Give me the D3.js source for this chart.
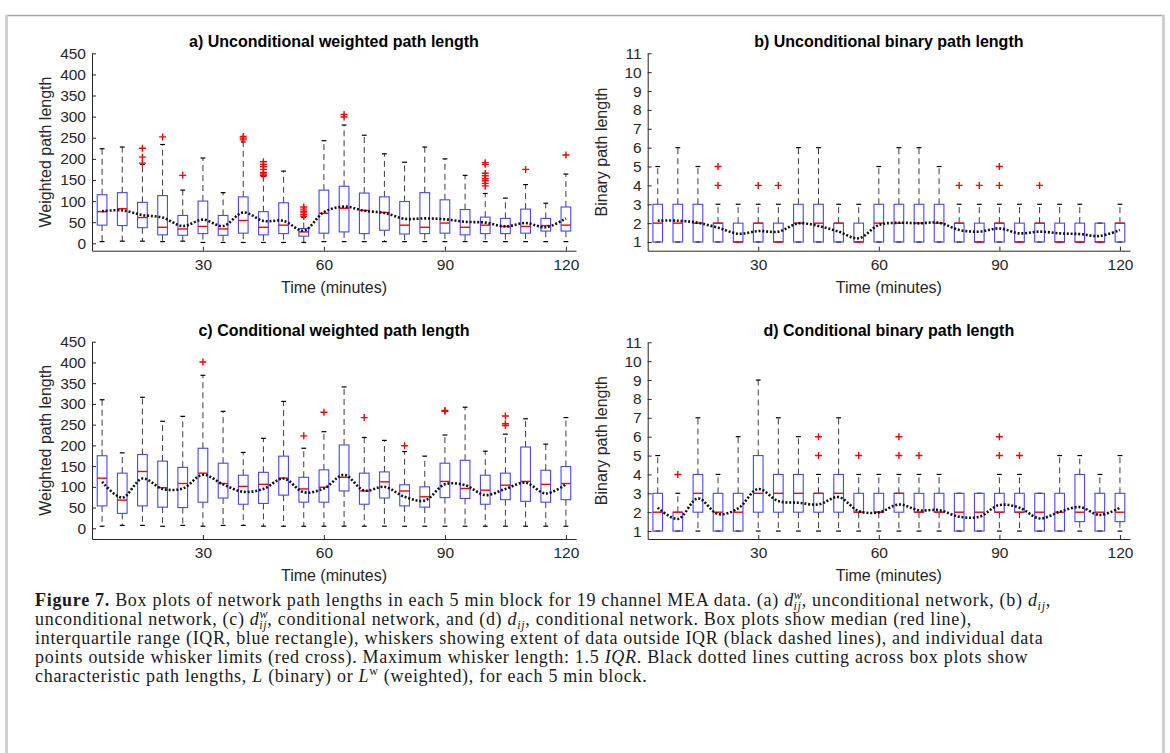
<!DOCTYPE html>
<html>
<head>
<meta charset="utf-8">
<script src="https://cdn.jsdelivr.net/npm/d3@7/dist/d3.min.js"></script>
<style>
body { margin: 0; background: #fff; }
svg { display: block; }
</style>
</head>
<body>
<div id="fig"></div>
<script>
// time blocks (minutes)
var times = [5,10,15,20,25,30,35,40,45,50,55,60,65,70,75,80,85,90,95,100,105,110,115,120];
var timeTicks = [30,60,90,120];
var weightedTicks = [0,50,100,150,200,250,300,350,400,450];
var binaryTicks = [1,2,3,4,5,6,7,8,9,10,11];

// a) unconditional weighted path length
var aQ1  = [43,42,37,20,19,23,19,24,20,23,17,24,27,23,31,22,23,24,20,23,23,24,29,29];
var aMed = [75,82,61,38,34,40,34,54,38,43,27,71,83,78,73,43,38,48,38,43,40,40,42,43];
var aQ3  = [115,120,97,113,66,100,66,110,75,96,35,126,135,119,110,99,120,103,80,62,59,81,59,86];
var aLo  = [4,5,5,4,5,2,2,2,2,2,2,4,4,4,4,4,4,4,4,4,4,4,4,4];
var aHi  = [224,228,187,234,126,202,120,240,158,171,61,243,280,256,212,192,228,200,161,118,107,139,95,164];
var aOut = [[],[],[190,204,225],[252],[161],[],[],[245,249,253],[160,164,168,175,182,187,193],[],[64,68,72,76,81,86],[],
            [299,305],[],[],[],[],[],[],[136,142,148,153,160,166,187,191],[],[175],[],[209]];
var aL   = [76,78,67,61,41,56,41,73,53,53,30,74,87,77,72,58,59,57,51,49,40,48,38,59];

// b) unconditional binary path length
var bQ1  = [1,1,1,1,1,1,1,1,1,1,1,1,1,1,1,1,1,1,1,1,1,1,1,1];
var bMed = [2,2,2,2,1,2,1,2,2,2,1,2,2,2,2,2,1,2,1,2,1,1,1,2];
var bQ3  = [3,3,3,2,2,2,2,3,3,2,2,3,3,3,3,2,2,2,2,2,2,2,2,2];
var bLo  = [1,1,1,1,1,1,1,1,1,1,1,1,1,1,1,1,1,1,1,1,1,1,1,1];
var bHi  = [5,6,5,3,3,3,3,6,6,3,3,5,6,6,5,3,3,3,3,3,3,3,2,3];
var bOut = [[],[],[],[4,5],[],[4],[4],[],[],[],[],[],[],[],[],[4],[4],[4,5],[],[4],[],[],[],[]];
var bL   = [2.13,2.13,2.02,1.76,1.44,1.58,1.55,1.99,1.85,1.55,1.2,1.9,2.02,1.99,2.02,1.64,1.55,1.72,1.46,1.55,1.46,1.42,1.32,1.64];

// c) conditional weighted path length
var cQ1  = [54,36,54,51,50,63,73,58,60,80,63,63,90,58,73,54,51,74,72,58,69,65,63,69];
var cMed = [121,68,137,98,108,133,108,101,106,121,95,99,123,90,112,90,76,113,96,92,104,113,106,108];
var cQ3  = [175,133,178,162,147,193,157,128,135,174,123,141,201,133,136,105,100,157,164,128,133,196,140,149];
var cLo  = [5,7,7,5,7,5,7,7,5,5,5,5,5,5,5,5,5,5,5,5,5,5,5,5];
var cHi  = [310,182,316,258,270,369,282,183,217,306,193,233,341,219,212,185,174,225,292,186,227,264,203,267];
var cOut = [[],[],[],[],[],[401],[],[],[],[],[223],[280],[],[267],[],[199],[],[282,284],[],[],[248,252,271],[],[],[]];
var cL   = [112,74,120,95,96,129,106,88,95,120,87,96,129,91,100,76,67,106,104,80,95,110,84,106];

// d) conditional binary path length
var dQ1  = [1,1,2,1,1,2,2,2,2,2,2,2,2,2,2,1,1,2,2,1,1,1.5,1,1.5];
var dMed = [2,2,3,2,2,3,3,3,3,3,2,2,3,2,2,2,2,2,2,2,2,2,2,2];
var dQ3  = [3,2,4,3,3,5,4,4,3,4,3,3,3,3,3,3,3,3,3,3,3,4,3,3];
var dLo  = [1,1,1,1,1,1,1,1,1,1,1,1,1,1,1,1,1,1,1,1,1,1,1,1];
var dHi  = [5,3,7,4,6,9,7,6,4,7,4,4,4,4,4,3,3,4,4,3,5,5,4,5];
var dOut = [[],[4],[],[],[],[],[],[],[5,6],[],[5],[],[5,6],[5],[],[],[],[5,6],[5],[],[],[],[],[]];
var dL   = [2.24,1.64,2.73,1.9,2.2,3.23,2.59,2.5,2.41,2.8,2.06,1.99,2.41,2.1,2.11,1.76,1.76,2.38,2.24,1.67,2.02,2.27,1.85,2.24];

var panels = [
    {title: "a) Unconditional weighted path length", ylabel: "Weighted path length",
     q1: aQ1, med: aMed, q3: aQ3, lo: aLo, hi: aHi, out: aOut, L: aL,
     ticks: weightedTicks, ymin: -17.5, ymax: 450, left: 92, right: 576, top: 53.3, bottom: 250.7},
    {title: "b) Unconditional binary path length", ylabel: "Binary path length",
     q1: bQ1, med: bMed, q3: bQ3, lo: bLo, hi: bHi, out: bOut, L: bL,
     ticks: binaryTicks, ymin: 0.54, ymax: 11, left: 647.7, right: 1130, top: 53.3, bottom: 250.7},
    {title: "c) Conditional weighted path length", ylabel: "Weighted path length",
     q1: cQ1, med: cMed, q3: cQ3, lo: cLo, hi: cHi, out: cOut, L: cL,
     ticks: weightedTicks, ymin: -25.8, ymax: 450, left: 92, right: 576, top: 341.7, bottom: 539},
    {title: "d) Conditional binary path length", ylabel: "Binary path length",
     q1: dQ1, med: dMed, q3: dQ3, lo: dLo, hi: dHi, out: dOut, L: dL,
     ticks: binaryTicks, ymin: 0.58, ymax: 11, left: 647.7, right: 1130, top: 342.3, bottom: 539}
];

var W = 1170, H = 753;
var sans = "'Liberation Sans', Arial, Helvetica, sans-serif";
var serif = "'Liberation Serif', 'Times New Roman', serif";

var svg = d3.select("#fig").append("svg")
    .attr("width", W)
    .attr("height", H);

svg.append("rect").attr("width", W).attr("height", H).attr("fill", "#fff");

// page frame
svg.append("line").attr("x1", 6).attr("x2", 1165).attr("y1", 15.5).attr("y2", 15.5)
    .attr("stroke", "#a6a6a6").attr("stroke-width", 1.5);
svg.append("rect").attr("x", 5).attr("y", 15).attr("width", 3).attr("height", H - 15).attr("fill", "#d0d0d0");
svg.append("rect").attr("x", 1162).attr("y", 15).attr("width", 3).attr("height", H - 15).attr("fill", "#d0d0d0");

panels.forEach(drawPanel);

function drawPanel(p) {
    var x = d3.scaleLinear().domain([2.5, 122.5]).range([p.left, p.right]);
    var y = d3.scaleLinear().domain([p.ymin, p.ymax]).range([p.bottom, p.top]);
    var g = svg.append("g");

    var half = (x(6.2) - x(5));      // half box width
    var cap = half / 2;

    // axes
    var yAxis = g.append("g")
        .attr("transform", "translate(" + p.left + ",0)")
        .call(d3.axisLeft(y).tickValues(p.ticks).tickSizeInner(-4).tickSizeOuter(0).tickPadding(6));
    var xAxis = g.append("g")
        .attr("transform", "translate(0," + p.bottom + ")")
        .call(d3.axisBottom(x).tickValues(timeTicks).tickSizeInner(-4).tickSizeOuter(0).tickPadding(8));
    [yAxis, xAxis].forEach(function(a) {
        a.attr("font-family", sans).attr("font-size", 15.5).attr("color", "#262626");
        a.selectAll("text").attr("fill", "#262626");
    });

    // titles and labels
    g.append("text")
        .attr("x", (p.left + p.right) / 2)
        .attr("y", p.top - 6)
        .attr("text-anchor", "middle")
        .attr("font-family", sans).attr("font-size", 16).attr("font-weight", "bold")
        .attr("fill", "#000")
        .text(p.title);
    g.append("text")
        .attr("x", (p.left + p.right) / 2)
        .attr("y", p.bottom + 42)
        .attr("text-anchor", "middle")
        .attr("font-family", sans).attr("font-size", 16)
        .attr("fill", "#262626")
        .text("Time (minutes)");
    g.append("text")
        .attr("transform", "translate(" + (p.left - 41) + "," + ((p.top + p.bottom) / 2) + ") rotate(-90)")
        .attr("text-anchor", "middle")
        .attr("font-family", sans).attr("font-size", 16)
        .attr("fill", "#262626")
        .text(p.ylabel);

    // boxes
    var boxes = g.selectAll("g.box")
        .data(times)
        .join("g")
        .attr("class", "box");

    boxes.each(function(t, i) {
        var b = d3.select(this);
        var cx = x(t);
        // whiskers
        b.append("line").attr("x1", cx).attr("x2", cx).attr("y1", y(p.q3[i])).attr("y2", y(p.hi[i]))
            .attr("stroke", "#3c3c3c").attr("stroke-dasharray", "6,4");
        b.append("line").attr("x1", cx).attr("x2", cx).attr("y1", y(p.q1[i])).attr("y2", y(p.lo[i]))
            .attr("stroke", "#3c3c3c").attr("stroke-dasharray", "6,4");
        // caps
        [p.hi[i], p.lo[i]].forEach(function(v) {
            b.append("line").attr("x1", cx - cap).attr("x2", cx + cap).attr("y1", y(v)).attr("y2", y(v))
                .attr("stroke", "#000").attr("stroke-width", 1.2);
        });
        // box
        b.append("rect")
            .attr("x", cx - half).attr("width", 2 * half)
            .attr("y", y(p.q3[i])).attr("height", y(p.q1[i]) - y(p.q3[i]))
            .attr("fill", "none").attr("stroke", "#4646ff").attr("stroke-width", 1.1);
        // median
        b.append("line").attr("x1", cx - half).attr("x2", cx + half)
            .attr("y1", y(p.med[i])).attr("y2", y(p.med[i]))
            .attr("stroke", "#ff0000").attr("stroke-width", 1.4);
        // outliers
        b.selectAll("path.out")
            .data(p.out[i])
            .join("path")
            .attr("class", "out")
            .attr("d", function(v) {
                var py = y(v);
                return "M" + (cx - 3.5) + "," + py + "H" + (cx + 3.5) + "M" + cx + "," + (py - 3.5) + "V" + (py + 3.5);
            })
            .attr("stroke", "#ff0000").attr("stroke-width", 1.4);
    });

    // characteristic path length
    var line = d3.line()
        .x(function(d, i) { return x(times[i]); })
        .y(function(d) { return y(d); })
        .curve(d3.curveCatmullRom);
    g.append("path")
        .datum(p.L)
        .attr("d", line)
        .attr("fill", "none")
        .attr("stroke", "#111")
        .attr("stroke-width", 2.6)
        .attr("stroke-dasharray", "2,1.8");
}

// caption
var capLines = [
    [{t: "Figure 7.", b: 1}, {t: " Box plots of network path lengths in each 5 min block for 19 channel MEA data. (a) "},
     {dw: 1}, {t: ", unconditional network, (b) "}, {d: 1}, {t: ","}],
    [{t: "unconditional network, (c) "}, {dw: 1}, {t: ", conditional network, and (d) "}, {d: 1},
     {t: ", conditional network. Box plots show median (red line),"}],
    [{t: "interquartile range (IQR, blue rectangle), whiskers showing extent of data outside IQR (black dashed lines), and individual data"}],
    [{t: "points outside whisker limits (red cross). Maximum whisker length: 1.5 "}, {t: "IQR", i: 1},
     {t: ". Black dotted lines cutting across box plots show"}],
    [{t: "characteristic path lengths, "}, {t: "L", i: 1}, {t: " (binary) or "}, {t: "L", i: 1}, {sup: "w"},
     {t: " (weighted), for each 5 min block."}]
];

var capSize = 18;
var small = 12;
capLines.forEach(function(segs, k) {
    var txt = svg.append("text")
        .attr("x", 35)
        .attr("y", 606 + k * 19)
        .attr("font-family", serif)
        .attr("font-size", capSize)
        .attr("letter-spacing", 0.7)
        .attr("fill", "#1a1a1a");
    var back = 0;   // baseline offset still to undo on the next text run
    function run(s, opts) {
        var ts = txt.append("tspan").text(s);
        if (opts.b) ts.attr("font-weight", "bold");
        if (opts.i) ts.attr("font-style", "italic");
        if (opts.size) ts.attr("font-size", opts.size);
        if (opts.dx) ts.attr("dx", opts.dx);
        var dy = (opts.dy || 0) + back;
        back = 0;
        if (dy) ts.attr("dy", dy);
        return ts;
    }
    segs.forEach(function(s) {
        if (s.t !== undefined) {
            run(s.t, s);
        } else if (s.sup) {
            run(s.sup, {size: small, dy: -7});
            back = 7;
        } else if (s.dw) {
            run("d", {i: 1});
            run("w", {i: 1, size: small, dy: -7});
            run("ij", {i: 1, size: small, dx: -9, dy: 11});
            back = -4;
        } else if (s.d) {
            run("d", {i: 1});
            run("ij", {i: 1, size: small, dy: 4});
            back = -4;
        }
    });
});
</script>
</body>
</html>
